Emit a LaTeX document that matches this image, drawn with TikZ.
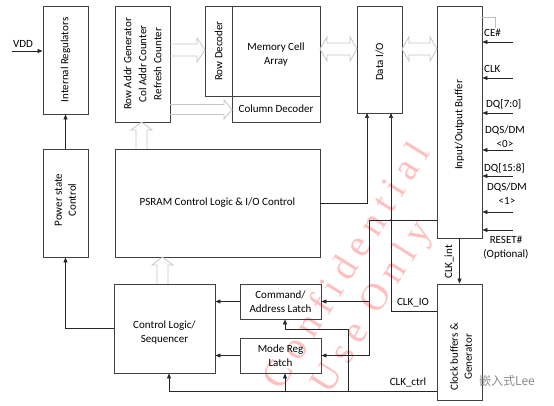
\documentclass[tikz,border=0pt]{standalone}
\usepackage{fontspec}
\setmainfont{Carlito}
\newfontfamily\wmfont[LetterSpace=22]{Liberation Serif}
\newfontfamily\cjk{Noto Sans CJK SC}
\usetikzlibrary{arrows.meta,calc}
\tikzset{
  box/.style={draw=black!75, line width=0.9pt, inner sep=0pt},
  lbl/.style={font=\fontsize{11}{14}\selectfont, align=center, inner sep=0pt},
  conn/.style={draw=black!85, line width=0.7pt},
  arr/.style={conn, -{Triangle[length=5pt,width=4pt]}},
  hollow/.style={draw=black!22, line width=0.8pt},
  wm/.style={text=red!25, font=\wmfont\fontsize{38}{38}\selectfont, rotate=58, inner sep=0pt},
}
\begin{document}
\begin{tikzpicture}[x=1pt,y=-1pt]
\useasboundingbox (0,0) rectangle (554,406);
% watermark
\node[wm] (wm1) at (345,265) {Confidential};
\node[wm] (wm2) at (373,308) {Use Only};
% boxes
\node[box, minimum width=45pt, minimum height=108pt] (ir) at (65.5,60) {};
\node[box, minimum width=55pt, minimum height=116pt] (ra) at (142.5,64) {};
\node[box, minimum width=27pt, minimum height=90pt] (rd) at (218.5,51) {};
\node[box, minimum width=88pt, minimum height=90pt] (mca) at (276,51) {};
\node[box, minimum width=88pt, minimum height=26pt] (cd) at (276,109) {};
\node[box, minimum width=45pt, minimum height=107pt] (dio) at (379.5,59.5) {};
\node[box, minimum width=45pt, minimum height=232pt] (iob) at (459.5,122) {};
\node[box, minimum width=45pt, minimum height=108pt] (psc) at (65.5,203) {};
\node[box, minimum width=205pt, minimum height=108pt] (psram) at (217.5,203) {};
\node[box, minimum width=101pt, minimum height=89pt] (cls) at (164.5,328.5) {};
\node[box, minimum width=81pt, minimum height=35pt] (cal) at (280.5,301.5) {};
\node[box, minimum width=81pt, minimum height=35pt] (mrl) at (280.5,355.5) {};
\node[box, minimum width=45pt, minimum height=116pt] (cbg) at (459.5,342) {};
% box texts
\node[lbl, rotate=90] (irt) at (ir.center) {Internal Regulators};
\node[lbl, rotate=90, font=\fontsize{11}{15}\selectfont] (rat) at (ra.center) {Row Addr Generator\\Col Addr Counter\\Refresh Counter};
\node[lbl, rotate=90] (rdt) at (rd.center) {Row Decoder};
\node[lbl] (mcat) at (276,55) {Memory Cell\\Array};
\node[lbl] (cdt) at (cd.center) {Column Decoder};
\node[lbl, rotate=90] (diot) at (379.5,62) {Data I/O};
\node[lbl, rotate=90] (iobt) at (459.5,125) {Input/Output Buffer};
\node[lbl, rotate=90] (psct) at (65.5,200) {Power state\\Control};
\node[lbl] (psramt) at (psram.center) {PSRAM Control Logic \& I/O Control};
\node[lbl] (clst) at (164.5,333) {Control Logic/\\Sequencer};
\node[lbl] (calt) at (cal.center) {Command/\\Address Latch};
\node[lbl] (mrlt) at (mrl.center) {Mode Reg\\Latch};
\node[lbl, rotate=90] (cbgt) at (461,357) {Clock buffers \&\\Generator};
% hollow arrows
\draw[hollow] (170,44) -- (197,44) -- (197,38) -- (205,50) -- (197,62) -- (197,56) -- (170,56);
\draw[hollow] (170,104.5) -- (224,104.5) -- (224,100) -- (232,109.5) -- (224,119) -- (224,114.5) -- (170,114.5);
\draw[hollow] (136,149) -- (136,130) -- (131,130) -- (141.5,122) -- (152,130) -- (147,130) -- (147,149);
\draw[hollow] (157,284) -- (157,265) -- (152,265) -- (162.5,257) -- (173,265) -- (168,265) -- (168,284);
\draw[hollow] (320,49) -- (327,37) -- (327,43) -- (350,43) -- (350,37) -- (357,49) -- (350,61) -- (350,55) -- (327,55) -- (327,61) -- cycle;
\draw[hollow] (402,49) -- (409,37) -- (409,43) -- (430,43) -- (430,37) -- (437,49) -- (430,61) -- (430,55) -- (409,55) -- (409,61) -- cycle;
\draw[draw=black!25, line width=0.6pt] (482,17) -- (495,17) -- (495,28);
% VDD
\coordinate (vdd) at (12,51);
\draw[arr] (vdd) -- (vdd -| ir.west);
\node[lbl, anchor=west] (vddl) at (13,44) {VDD};
% power
\draw[arr] (psc.north) -- (ir.south);
\draw[arr] (cls.west) -| (psc.south);
\draw[arr] (cal.west) -- (cal.west -| cls.east);
\draw[arr] (mrl.west) -- (mrl.west -| cls.east);
% data I/O
\coordinate (dA) at (367,113);
\coordinate (dB) at (391,113);
\draw[arr] (psram.east) -| (dA);
\coordinate (clkio) at (437,311);
\draw[arr] (clkio) -| (dB);
\node[lbl, anchor=south] (clkiol) at (413,307) {CLK\_IO};
% I/O buffer to latches
\coordinate (ioa) at (437,220);
\coordinate (j1) at (369,220);
\draw[conn] (ioa) -- (j1) -- (j1 |- mrl.east);
\draw[arr] (j1 |- cal.east) -- (cal.east);
\draw[arr] (j1 |- mrl.east) -- (mrl.east);
\fill[black!85] (391,220) circle (1pt);
% CLK_int
\draw[arr] (iob.south) -- (cbg.north);
\node[lbl, rotate=90] (clkint) at (449,262) {CLK\_int};
% CLK_ctrl
\coordinate (cc) at (437,391);
\coordinate (cc1) at (169,391);
\coordinate (cc2) at (285,391);
\coordinate (cc3) at (348,391);
\coordinate (cc4) at (285,329);
\draw[conn] (cc) -- (cc1);
\draw[arr] (cc1) -- (cc1 |- cls.south);
\draw[arr] (cc2) -- (cc2 |- mrl.south);
\draw[conn] (cc3) |- (cc4);
\draw[arr] (cc4) -- (cc4 |- cal.south);
\node[lbl, anchor=south] (clkctrl) at (408,387) {CLK\_ctrl};
% pins
\foreach \n/\y in {pa/42,pb/78,pc/113,pd/150,pe/176,pf/212,pg/230}{
  \coordinate (\n) at (513,\y);
  \draw[arr] (\n) -- (\n -| iob.east);
}
\node[lbl, anchor=west] (lce) at (484,33) {CE\#};
\node[lbl, anchor=west] (lclk) at (484,69) {CLK};
\node[lbl, anchor=west] (ldq0) at (486,104) {DQ[7:0]};
\node[lbl] (ldqs0) at (505,136.5) {DQS/DM\\<0>};
\node[lbl, anchor=west] (ldq1) at (484,168) {DQ[15:8]};
\node[lbl] (ldqs1) at (507,194) {DQS/DM\\<1>};
\node[lbl] (lrst) at (506,248) {RESET\#\\(Optional)};
% logo
\node[text=black!45, font=\cjk\fontsize{12}{12}\selectfont, inner sep=0pt] (logo) at (507,381) {嵌入式Lee};
\end{tikzpicture}
\end{document}
